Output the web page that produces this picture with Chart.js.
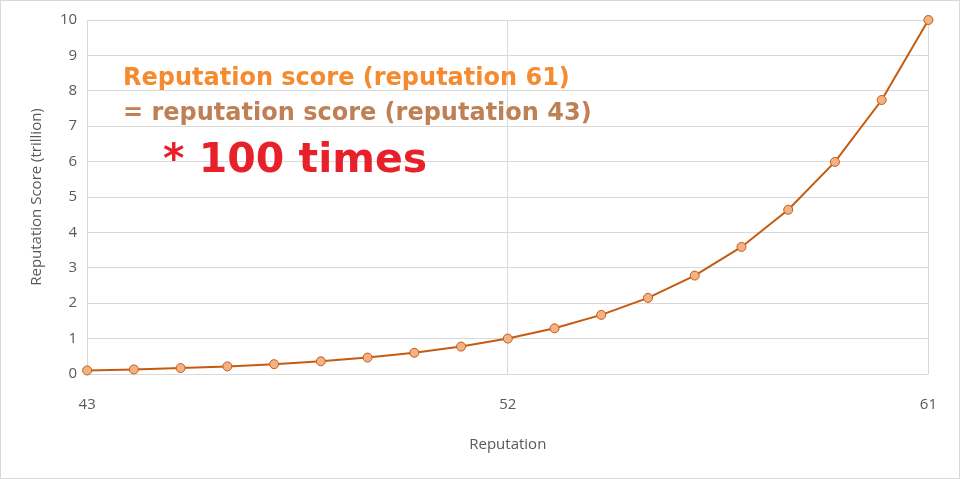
<!DOCTYPE html>
<html><head><meta charset="utf-8">
<script src="https://cdn.jsdelivr.net/npm/chart.js@4/dist/chart.umd.min.js"></script>
<style>html,body{margin:0;padding:0;background:#fff}#w{position:absolute;left:0;top:0;width:958px;height:477px;border:1px solid #d9d9d9}</style>
</head><body><div id="w"><canvas id="c"></canvas></div>
<script>
const reputation=[43,44,45,46,47,48,49,50,51,52,53,54,55,56,57,58,59,60,61];
const scores=[0.1,0.129,0.167,0.215,0.278,0.359,0.464,0.599,0.774,1.0,1.29,1.67,2.15,2.78,3.59,4.64,5.99,7.74,10];
const xTicks=[43,52,61];
const notes=[
 {t:"Reputation score (reputation 61)",c:"#F58A2E",s:24,x:122,y:78},
 {t:"= reputation score (reputation 43)",c:"#BE8156",s:24,x:122,y:113},
 {t:"* 100 times",c:"#E8202A",s:41,x:162,y:160}];
const txt={id:'txt',afterDraw(ch){const g=ch.ctx;g.save();g.textBaseline='middle';
 notes.forEach(n=>{g.font='bold '+n.s+'px "DejaVu Sans"';g.fillStyle=n.c;g.fillText(n.t,n.x,n.y);});g.restore();}};
new Chart(document.getElementById('c'),{type:'line',
 data:{datasets:[{data:reputation.map((x,i)=>({x,y:scores[i]})),borderColor:'#C55A11',borderWidth:2,clip:false,
  pointBackgroundColor:'#F4B183',pointBorderColor:'#C55A11',pointBorderWidth:1,pointRadius:4.5}]},
 options:{responsive:true,maintainAspectRatio:false,animation:false,
  layout:{padding:{left:23,right:28,top:19,bottom:24}},
  plugins:{legend:{display:false},tooltip:{enabled:false}},
  scales:{
   x:{type:'linear',min:43,max:61,afterBuildTicks:a=>{a.ticks=xTicks.map(v=>({value:v}));},
    grid:{color:'#d9d9d9',drawTicks:false},border:{display:false},
    ticks:{color:'#595959',font:{family:'"Open Sans"',size:15},padding:22},
    title:{display:true,text:'Reputation',color:'#595959',font:{family:'"Open Sans"',size:15},padding:{top:0,bottom:0}}},
   y:{min:0,max:10,ticks:{stepSize:1,color:'#595959',font:{family:'"Open Sans"',size:15},padding:10},
    grid:{color:'#d9d9d9',drawTicks:false},border:{display:false},
    title:{display:true,text:'Reputation Score (trillion)',color:'#595959',font:{family:'"Open Sans"',size:15}}}}},
 plugins:[txt]});
</script></body></html>
